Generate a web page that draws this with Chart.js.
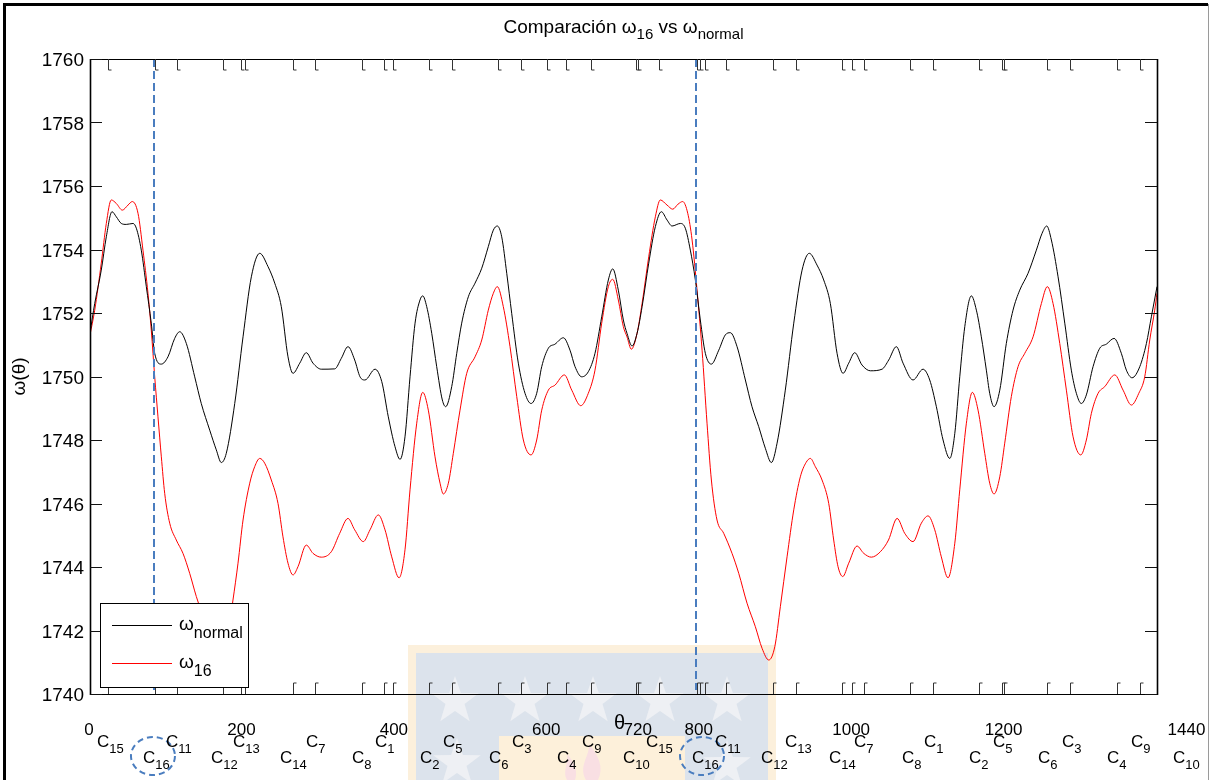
<!DOCTYPE html>
<html><head><meta charset="utf-8">
<script src="https://cdn.jsdelivr.net/npm/chart.js@4"></script>
<style>html,body{margin:0;padding:0;background:#fff;overflow:hidden}#wrap{width:1212px;height:780px}canvas{display:block}</style>
</head><body><div id="wrap"><canvas id="c" width="1212" height="780"></canvas></div>
<script>
// ---- data ----
const normalCurve = [[0,1751.37],[6.2,1752.3],[14.8,1753.35],[21.4,1754.4],[28.9,1755.19],[34.5,1755.03],[41.1,1754.82],[47.6,1754.79],[56.4,1754.82],[60.8,1754.67],[67.3,1753.98],[73.9,1752.83],[80.4,1751.68],[84.9,1750.73],[93.6,1750.39],[102.3,1750.62],[111.1,1751.2],[117.7,1751.41],[126.4,1751.04],[137.4,1749.99],[146,1749.15],[157.1,1748.31],[165.7,1747.69],[172.3,1747.29],[178.8,1747.58],[189.9,1749.15],[200.8,1751.25],[211.7,1753.14],[222.7,1753.88],[233.6,1753.46],[242.4,1752.94],[251,1752.2],[259.8,1750.62],[266.4,1750.1],[275.2,1750.42],[283.8,1750.75],[292.6,1750.42],[303.5,1750.23],[321.1,1750.24],[329.7,1750.57],[338.5,1750.94],[347.3,1750.52],[354.3,1749.99],[360.8,1749.89],[374,1750.23],[382.8,1749.84],[391.4,1748.73],[400.2,1747.79],[406.8,1747.39],[413.3,1748.1],[419.9,1749.99],[426.5,1751.68],[433,1752.41],[436.6,1752.54],[441.8,1752.2],[448.4,1751.36],[454.9,1750.31],[462.3,1749.26],[466.7,1749.05],[474.6,1749.68],[481.2,1750.73],[487.7,1751.68],[496.4,1752.51],[505.2,1752.94],[514,1753.41],[522.6,1754.09],[529.2,1754.61],[534.4,1754.74],[540.2,1754.4],[546.8,1753.25],[553.3,1751.99],[562,1750.42],[570.8,1749.47],[578.7,1749.15],[586.1,1749.47],[592.7,1750.31],[601.4,1750.89],[610.2,1751.02],[621.1,1751.22],[629.8,1750.83],[636.4,1750.31],[645.2,1749.99],[653.8,1750.15],[662.6,1750.73],[671.4,1751.88],[680.1,1753.04],[685.9,1753.39],[693.2,1752.72],[699.8,1751.78],[704.6,1751.36],[711.2,1750.96],[717.8,1751.36],[724.4,1752.2],[733.1,1753.57],[741.8,1754.72],[749.7,1755.19],[757.1,1754.93],[763.7,1754.74],[774.6,1754.82],[781.1,1754.67],[787.7,1753.98],[794.3,1753.04],[800.8,1751.78],[807.4,1750.73],[815.3,1750.39],[825,1750.83],[833.6,1751.31],[840.2,1751.38],[849,1750.94],[859.9,1749.89],[868.6,1749.05],[877.4,1748.42],[886.1,1747.74],[894,1747.29],[901.5,1747.9],[912.3,1749.57],[923.4,1751.68],[934.3,1753.35],[943.8,1753.88],[953.9,1753.51],[962.7,1753.04],[971.4,1752.3],[980.2,1750.73],[988.1,1750.1],[995.5,1750.42],[1003.4,1750.75],[1013,1750.36],[1023.9,1750.18],[1039.2,1750.23],[1048,1750.52],[1058,1750.94],[1066.8,1750.42],[1079.9,1749.89],[1093,1750.23],[1101.8,1749.89],[1110.5,1749.05],[1119.3,1748],[1128.1,1747.42],[1134.7,1748.21],[1141.2,1749.99],[1147.8,1751.57],[1156.4,1752.54],[1163,1752.09],[1169.5,1751.25],[1176.1,1750.2],[1180.5,1749.47],[1186.2,1749.05],[1193.7,1749.57],[1202.3,1751.04],[1211.1,1752.09],[1219.9,1752.72],[1230.8,1753.25],[1241.7,1753.98],[1249.2,1754.51],[1255.3,1754.74],[1261.4,1754.3],[1270.2,1753.14],[1279,1751.68],[1287.6,1750.2],[1294.2,1749.47],[1300.7,1749.15],[1307.3,1749.42],[1316.1,1750.31],[1324.9,1750.89],[1333.6,1751.02],[1343.7,1751.2],[1353.2,1750.73],[1359.8,1750.2],[1367.3,1749.96],[1377.4,1750.31],[1386.1,1751.04],[1392.6,1751.88],[1400,1752.83]];
const fault16Curve = [[0,1751.31],[6.2,1752.09],[14.8,1753.57],[21.4,1754.82],[27.9,1755.56],[34.5,1755.45],[42.4,1755.24],[49.9,1755.4],[55.5,1755.51],[63,1755.14],[69.5,1753.98],[76.1,1752.62],[80.4,1751.46],[84.9,1749.99],[89.2,1748.73],[93.6,1747.47],[98,1746.32],[104.6,1745.38],[113.2,1744.85],[122,1744.43],[130.8,1743.8],[139.5,1743.07],[153,1742.12],[162,1741.44],[170.6,1741.07],[178.5,1741.49],[187.6,1742.96],[194.2,1744.12],[200.8,1745.48],[209.6,1746.64],[216.1,1747.16],[222.7,1747.42],[229.2,1747.27],[237.9,1746.74],[246.7,1746],[253.2,1744.95],[259.8,1744.12],[266.4,1743.75],[272.9,1744.01],[283.8,1744.69],[292.6,1744.43],[303.5,1744.31],[316.6,1744.48],[327.6,1745.06],[338.5,1745.53],[347.3,1745.17],[358.6,1744.8],[367.4,1745.17],[378.3,1745.64],[387.1,1745.17],[395.9,1744.32],[405.5,1743.66],[413.3,1744.54],[419.9,1746.43],[428.7,1748.53],[436.6,1749.5],[443.9,1748.94],[452.7,1747.47],[459.3,1746.64],[463.6,1746.3],[470.2,1746.64],[476.7,1747.58],[485.5,1748.94],[494.3,1750.1],[505.2,1750.62],[514,1751.15],[522.6,1752.09],[529.2,1752.62],[534.4,1752.83],[542.3,1752.2],[551.1,1750.94],[559.9,1749.37],[568.6,1748],[578.7,1747.53],[586.1,1748],[592.7,1748.94],[601.4,1749.57],[610.2,1749.73],[622.4,1750.05],[632.1,1749.57],[643.9,1749.08],[653.8,1749.47],[662.6,1750.2],[671.4,1751.68],[680.1,1752.83],[685.9,1753.06],[693.2,1752.41],[699.8,1751.57],[704.6,1751.25],[710.3,1750.86],[717.8,1751.36],[724.4,1752.3],[733.1,1753.77],[741.8,1755.03],[748.3,1755.56],[757.1,1755.4],[764.6,1755.27],[771.6,1755.43],[777.7,1755.51],[784.3,1755.14],[790,1754.3],[796.5,1752.72],[803.1,1750.83],[809.6,1748.53],[815.3,1746.74],[822.7,1745.48],[831.5,1745.06],[842.4,1744.43],[851.2,1743.8],[862.1,1742.86],[873,1742.12],[881.8,1741.44],[890.6,1741.07],[898.5,1741.49],[905.8,1742.75],[914.6,1744.32],[923.4,1745.8],[932,1746.84],[939.5,1747.29],[945.2,1747.42],[951.7,1747.16],[960.5,1746.74],[969.3,1746],[975.8,1744.85],[981.5,1744.01],[987.7,1743.7],[995.5,1744.12],[1006.4,1744.66],[1015.2,1744.43],[1025.2,1744.31],[1037,1744.48],[1047.7,1744.85],[1059,1745.53],[1069,1745.06],[1079.9,1744.8],[1090.8,1745.38],[1099.6,1745.61],[1108.4,1745.17],[1117,1744.32],[1125.8,1743.66],[1134.7,1744.75],[1141.2,1746.43],[1149.9,1748.53],[1157.7,1749.5],[1165.2,1748.94],[1174,1747.58],[1180.5,1746.64],[1186.2,1746.3],[1193.7,1746.84],[1200.2,1747.9],[1208.9,1749.37],[1217.7,1750.31],[1226.5,1750.73],[1237.4,1751.25],[1248.3,1752.3],[1256.1,1752.83],[1263.6,1752.3],[1272.4,1751.04],[1281.1,1749.57],[1289.9,1748.1],[1300,1747.53],[1307.3,1748],[1313.9,1748.84],[1322.7,1749.47],[1331.4,1749.68],[1344.6,1750.05],[1355.5,1749.57],[1366.4,1749.1],[1376.1,1749.47],[1383.9,1749.99],[1390.5,1751.15],[1397,1752.09],[1400,1752.62]];
const xTickValues = [0,200,400,600,720,800,1000,1200,1440];
const yTickValues = [1740,1742,1744,1746,1748,1750,1752,1754,1756,1758,1760];
const cylinderNames = ['15','16','11','12','13','14','7','8','1','2','5','6','3','4','9','10','15','16','11','12','13','14','7','8','1','2','5','6','3','4','9','10'];
const cylinderAngles = [9.2,69.5,99.7,158.8,187.6,249.3,283.4,343.8,374,433,463.2,523.6,553.7,612.8,645.6,699.4,729.6,789.9,820,880.5,912,969.7,1002.5,1065.5,1094.3,1153.4,1184.9,1243.9,1275.4,1334.5,1366,1421];
const eventAngles = [24,85,114,175,198,203,266,295,357,386,398,445,475,535,566,600,625,657,716,719,747,797,800,807,835,896,926,987,1000,1016,1076,1106,1167,1197,1199,1256,1286,1348,1378];
const markerAngles = [84,795];
const circledCylinder = '16';

const FONT = '"Liberation Sans", Arial, Helvetica, sans-serif';
const BLUE = '#4a7dbf';

function drawRich(ctx, parts, x, y, align){
  let w = 0;
  parts.forEach(p => { ctx.font = p.s + 'px ' + FONT; p.w = ctx.measureText(p.t).width; w += p.w; });
  let cx = align === 'center' ? x - w/2 : (align === 'right' ? x - w : x);
  ctx.textAlign = 'left'; ctx.textBaseline = 'alphabetic';
  parts.forEach(p => { ctx.font = p.s + 'px ' + FONT; ctx.fillText(p.t, cx, y + (p.dy || 0)); cx += p.w; });
}
function star(ctx, cx, cy, R){
  ctx.beginPath();
  for (let i = 0; i < 10; i++){
    const a = -Math.PI/2 + i*Math.PI/5, r = i % 2 ? R*0.4 : R;
    const px = cx + r*Math.cos(a), py = cy + r*Math.sin(a);
    i ? ctx.lineTo(px, py) : ctx.moveTo(px, py);
  }
  ctx.closePath(); ctx.fill();
}

const backgroundPlugin = {
  id: 'bg',
  beforeDraw(chart){
    const ctx = chart.ctx;
    ctx.save();
    ctx.fillStyle = '#fff'; ctx.fillRect(0, 0, chart.width, chart.height);
    // watermark (university logo, faint)
    ctx.fillStyle = '#fcf0dc'; ctx.fillRect(408, 645, 368, 135);
    ctx.fillStyle = '#dce3ec'; ctx.fillRect(416, 653, 352, 127);
    ctx.fillStyle = '#eef0f4';
    [[455,701],[525,701],[593,701],[660,701],[727,701],[457,763],[727,765]].forEach(s => star(ctx, s[0], s[1], 25));
    ctx.fillStyle = '#fdf0da'; ctx.fillRect(499, 736, 186, 44);
    ctx.fillStyle = '#f9dfe3';
    ctx.beginPath(); ctx.moveTo(586,780); ctx.bezierCurveTo(578,766,590,756,589,744); ctx.bezierCurveTo(599,756,604,768,598,780); ctx.closePath(); ctx.fill();
    ctx.beginPath(); ctx.moveTo(567,780); ctx.bezierCurveTo(562,771,569,763,567,754); ctx.bezierCurveTo(575,763,578,772,575,780); ctx.closePath(); ctx.fill();
    ctx.restore();
  }
};

const decorPlugin = {
  id: 'decor',
  afterDatasetsDraw(chart){
    const ctx = chart.ctx, a = chart.chartArea, xs = chart.scales.x, ys = chart.scales.y;
    const px = v => xs.getPixelForValue(v), py = v => ys.getPixelForValue(v);
    ctx.save();
    // dashed markers
    ctx.strokeStyle = BLUE; ctx.lineWidth = 2; ctx.setLineDash([8,4]);
    markerAngles.forEach(m => { const x = Math.round(px(m)); ctx.beginPath(); ctx.moveTo(x, a.top); ctx.lineTo(x, a.bottom - 4); ctx.stroke(); });
    ctx.setLineDash([]);
    // axes box
    ctx.strokeStyle = '#000'; ctx.lineWidth = 1;
    ctx.strokeRect(Math.round(a.left) + 0.5, Math.round(a.top) + 0.5, Math.round(a.right - a.left), Math.round(a.bottom - a.top));
    ctx.lineWidth = 1.6;
    ctx.beginPath(); ctx.moveTo(Math.round(a.left)+0.5, a.top); ctx.lineTo(Math.round(a.left)+0.5, a.bottom+1); ctx.stroke();
    ctx.beginPath(); ctx.moveTo(Math.round(a.right)+0.5, a.top); ctx.lineTo(Math.round(a.right)+0.5, a.bottom+1); ctx.stroke();
    // y ticks both sides
    ctx.lineWidth = 1; ctx.strokeStyle = '#111';
    yTickValues.forEach(v => {
      const y = Math.round(py(v)) + 0.5;
      ctx.beginPath(); ctx.moveTo(a.left, y); ctx.lineTo(a.left + 12, y); ctx.stroke();
      ctx.beginPath(); ctx.moveTo(a.right, y); ctx.lineTo(a.right - 12, y); ctx.stroke();
    });
    // cylinder event marks top and bottom
    ctx.strokeStyle = '#333';
    eventAngles.forEach(e => {
      const x = Math.round(px(e)) + 0.5;
      ctx.beginPath(); ctx.moveTo(x, a.top); ctx.lineTo(x, a.top + 11); ctx.lineTo(x + 3, a.top + 11); ctx.stroke();
      ctx.beginPath(); ctx.moveTo(x, a.bottom); ctx.lineTo(x, a.bottom - 11); ctx.lineTo(x + 3, a.bottom - 11); ctx.stroke();
    });
    // legend box
    ctx.fillStyle = '#fff'; ctx.fillRect(100, 603, 148, 84);
    ctx.strokeStyle = '#000'; ctx.lineWidth = 1; ctx.strokeRect(100.5, 603.5, 148, 84);
    ctx.strokeStyle = '#000'; ctx.beginPath(); ctx.moveTo(112, 625.5); ctx.lineTo(172, 625.5); ctx.stroke();
    ctx.strokeStyle = '#ff0000'; ctx.beginPath(); ctx.moveTo(112, 663.5); ctx.lineTo(172, 663.5); ctx.stroke();
    ctx.fillStyle = '#000';
    drawRich(ctx, [{t:'\u03c9', s:19}, {t:'normal', s:16, dy:8}], 179, 630, 'left');
    drawRich(ctx, [{t:'\u03c9', s:19}, {t:'16', s:16, dy:8}], 179, 668, 'left');
    // y tick labels
    yTickValues.forEach(v => drawRich(ctx, [{t:String(v), s:19}], a.left - 6, py(v) + 7, 'right'));
    // x tick labels (text annotations)
    xTickValues.forEach(v => drawRich(ctx, [{t:String(v), s:17}], px(v) - 1, 735, 'center'));
    // axis labels
    drawRich(ctx, [{t:'\u03b8', s:20}], px(696) - 1, 729, 'center');
    ctx.save(); ctx.translate(25, py(1750)); ctx.rotate(-Math.PI/2);
    drawRich(ctx, [{t:'\u03c9(\u03b8)', s:19}], 0, 0, 'center'); ctx.restore();
    // cylinder labels
    cylinderNames.forEach((n, i) => {
      const x = px(cylinderAngles[i]), base = i % 2 === 0 ? 747 : 763;
      drawRich(ctx, [{t:'C', s:17}, {t:n, s:13, dy:6}], x, base, 'left');
      if (n === circledCylinder){
        ctx.save(); ctx.strokeStyle = BLUE; ctx.lineWidth = 2; ctx.setLineDash([6,4]);
        ctx.beginPath(); ctx.ellipse(x + 10, 756, 22, 19, 0, 0, Math.PI*2); ctx.stroke(); ctx.restore();
      }
    });
    // title
    drawRich(ctx, [{t:'Comparaci\u00f3n \u03c9', s:19}, {t:'16', s:15, dy:6}, {t:' vs \u03c9', s:19}, {t:'normal', s:15, dy:6}], (a.left + a.right)/2, 33, 'center');
    // figure border
    ctx.strokeStyle = '#000'; ctx.lineWidth = 3;
    ctx.beginPath(); ctx.moveTo(4.5, 780); ctx.lineTo(4.5, 4.5); ctx.lineTo(1208, 4.5); ctx.stroke();
    ctx.strokeStyle = '#9a9a9a'; ctx.lineWidth = 1;
    ctx.beginPath(); ctx.moveTo(1208.5, 4); ctx.lineTo(1208.5, 780); ctx.stroke();
    ctx.restore();
  }
};

new Chart(document.getElementById('c'), {
  type: 'line',
  data: {
    datasets: [
      { label: '\u03c9normal', data: normalCurve.map(p => ({x:p[0], y:p[1]})), borderColor: '#000000', borderWidth: 1, pointRadius: 0, cubicInterpolationMode: 'monotone', fill: false },
      { label: '\u03c916', data: fault16Curve.map(p => ({x:p[0], y:p[1]})), borderColor: '#ff0000', borderWidth: 1, pointRadius: 0, cubicInterpolationMode: 'monotone', fill: false }
    ]
  },
  options: {
    responsive: false, animation: false, devicePixelRatio: 1,
    layout: { padding: { left: 90, top: 59, right: 55, bottom: 86 } },
    scales: {
      x: { type: 'linear', min: 0, max: 1400, display: false },
      y: { type: 'linear', min: 1740, max: 1760, display: false }
    },
    plugins: { legend: { display: false }, title: { display: false }, tooltip: { enabled: false } }
  },
  plugins: [backgroundPlugin, decorPlugin]
});
</script>
</body></html>
